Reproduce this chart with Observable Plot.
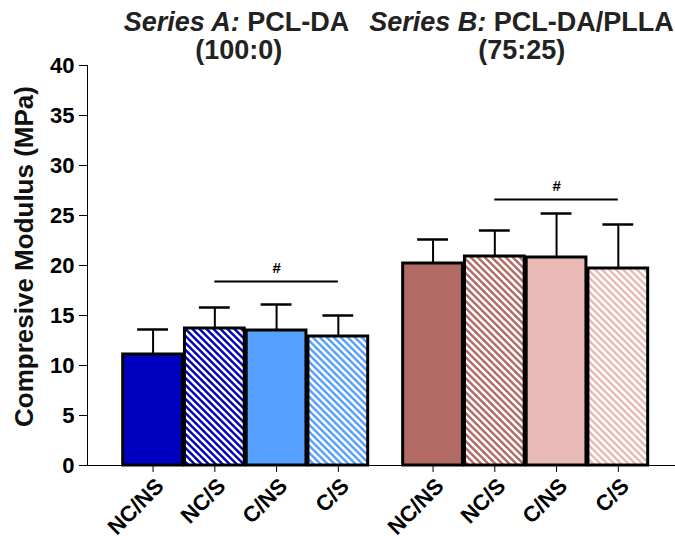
<!DOCTYPE html>
<html>
<head>
<meta charset="utf-8">
<script src="https://cdn.jsdelivr.net/npm/d3@7"></script>
<script src="https://cdn.jsdelivr.net/npm/@observablehq/plot@0.6"></script>
<style>
  html, body { margin: 0; padding: 0; background: #fff; }
  #chart svg { display: block; }
  g[aria-label$="-axis"] line, g[aria-label$="-axis"] path { stroke-width: 2px; }
</style>
</head>
<body>
<div id="chart"></div>
<script>
// ---------- data ----------
const categories = ["NC/NS", "NC/S", "C/NS", "C/S"];
const groups = ["A", "B"];
const titleItalic = ["Series A:", "Series B:"];
const titleRegular = ["PCL-DA", "PCL-DA/PLLA"];
const titleRatio = ["(100:0)", "(75:25)"];
const meanA = [11.1, 13.7, 13.5, 12.9];
const sdA   = [2.5, 2.1, 2.6, 2.1];
const meanB = [20.2, 20.9, 20.8, 19.7];
const sdB   = [2.4, 2.6, 4.4, 4.4];
const sigLevel = [18.4, 26.6];       // height of "#" comparison bar per series
const sigFrom = "NC/S", sigTo = "C/S";
const sigLabel = "#";
const yTicks = [0, 5, 10, 15, 20, 25, 30, 35, 40];
const yLabel = "Compresive Modulus (MPa)";

// ---------- styles / layout ----------
const colorDark  = ["#0000C0", "#B36B66"];
const colorLight = ["#56A0FF", "#E9BAB5"];
const GAP = 0.534, LEFT_PAD = 0.562, RIGHT_PAD = 0.426;
const FONT = "Liberation Sans, Arial, Helvetica, sans-serif";

const means = [meanA, meanB], sds = [sdA, sdB];
const rows = [];
groups.forEach((g, gi) => categories.forEach((c, i) => {
  const dark = i < 2;
  const hatched = i % 2 === 1;
  rows.push({
    group: g, cat: c,
    mean: means[gi][i], sd: sds[gi][i],
    center: gi * (4 + GAP) + i + 0.5,
    fill: hatched ? `url(#hatch-${gi}-${dark ? "d" : "l"})` : (dark ? colorDark[gi] : colorLight[gi])
  });
}));
const centerOf = (gi, c) => gi * (4 + GAP) + categories.indexOf(c) + 0.5;
const sigRows = groups.map((g, gi) => ({x1: centerOf(gi, sigFrom), x2: centerOf(gi, sigTo), y: sigLevel[gi]}));
const titleRows = groups.map((g, gi) => ({gc: gi * (4 + GAP) + 2, it: titleItalic[gi], reg: titleRegular[gi], ratio: titleRatio[gi]}));

// hatch pattern definitions
function defsMark() {
  const ns = "http://www.w3.org/2000/svg";
  const defs = document.createElementNS(ns, "defs");
  const S = 7;
  const make = (id, col) => {
    const p = document.createElementNS(ns, "pattern");
    p.setAttribute("id", id);
    p.setAttribute("patternUnits", "userSpaceOnUse");
    p.setAttribute("width", S);
    p.setAttribute("height", S);
    const r = document.createElementNS(ns, "rect");
    r.setAttribute("width", S); r.setAttribute("height", S); r.setAttribute("fill", col);
    p.appendChild(r);
    const path = document.createElementNS(ns, "path");
    path.setAttribute("d", `M0,0 L${S},${S} M-2,${S - 2} L2,${S + 2} M${S - 2},-2 L${S + 2},2`);
    path.setAttribute("stroke", "#fff");
    path.setAttribute("stroke-width", 2.6);
    p.appendChild(path);
    defs.appendChild(p);
  };
  groups.forEach((g, gi) => { make(`hatch-${gi}-d`, colorDark[gi]); make(`hatch-${gi}-l`, colorLight[gi]); });
  return defs;
}

const titleMarks = [];
const titleDx = [-6, -39.5];
const ratioDx = [-7, -4];
const TS = 27;
titleRows.forEach((t, gi) => {
  titleMarks.push(
    Plot.text([t], {x: "gc", text: "it", frameAnchor: "top", textAnchor: "end", lineAnchor: "middle",
      dx: titleDx[gi], dy: -43, fontSize: TS, fontWeight: "bold", fontStyle: "italic", fill: "#222"}),
    Plot.text([t], {x: "gc", text: "reg", frameAnchor: "top", textAnchor: "start", lineAnchor: "middle",
      dx: titleDx[gi] + 7.5, dy: -43, fontSize: TS, fontWeight: "bold", fill: "#222"}),
    Plot.text([t], {x: "gc", text: "ratio", frameAnchor: "top", textAnchor: "middle", lineAnchor: "middle",
      dx: ratioDx[gi], dy: -15, fontSize: TS, fontWeight: "bold", fill: "#222"})
  );
});

const chart = Plot.plot({
  width: 675,
  height: 539,
  marginTop: 65,
  marginBottom: 74,
  marginLeft: 87,
  marginRight: 0,
  style: {fontFamily: FONT, fontSize: "22px", fontWeight: "bold", color: "black", background: "white"},
  color: {type: "identity"},
  x: {domain: [-LEFT_PAD, 8 + GAP + RIGHT_PAD], ticks: rows.map(d => d.center), tickFormat: () => "",
      tickSize: 7, line: true, label: null},
  y: {domain: [0, 40], ticks: yTicks, tickSize: 8, tickPadding: 5, line: true, label: null},
  marks: [
    defsMark,
    Plot.ruleX(rows, {x: "center", y1: "mean", y2: d => d.mean + d.sd, strokeWidth: 2}),
    Plot.ruleY(rows, {y: d => d.mean + d.sd, x1: d => d.center - 0.25, x2: d => d.center + 0.25, strokeWidth: 2.5}),
    Plot.rectY(rows, {x1: d => d.center - 0.5, x2: d => d.center + 0.5, y1: 0, y2: "mean", fill: "fill",
      stroke: "black", strokeWidth: 3, insetLeft: 1, insetRight: 1}),
    Plot.ruleY(sigRows, {x1: "x1", x2: "x2", y: "y", strokeWidth: 2}),
    Plot.text(sigRows, {x: d => (d.x1 + d.x2) / 2, y: "y", text: () => sigLabel, dy: -13, fontSize: 15, fontWeight: "bold"}),
    Plot.text(rows, {x: "center", y: () => 0, text: "cat", rotate: -45, textAnchor: "end", lineAnchor: "middle",
      dx: 7, dy: 17, fontSize: 22, fontWeight: "bold"}),
    Plot.text([yLabel], {frameAnchor: "left", rotate: -90, textAnchor: "middle", lineAnchor: "middle",
      dx: -63, dy: -9, fontSize: 26, fontWeight: "bold", fill: "#111"}),
    ...titleMarks
  ]
});
document.getElementById("chart").appendChild(chart);
</script>
</body>
</html>
